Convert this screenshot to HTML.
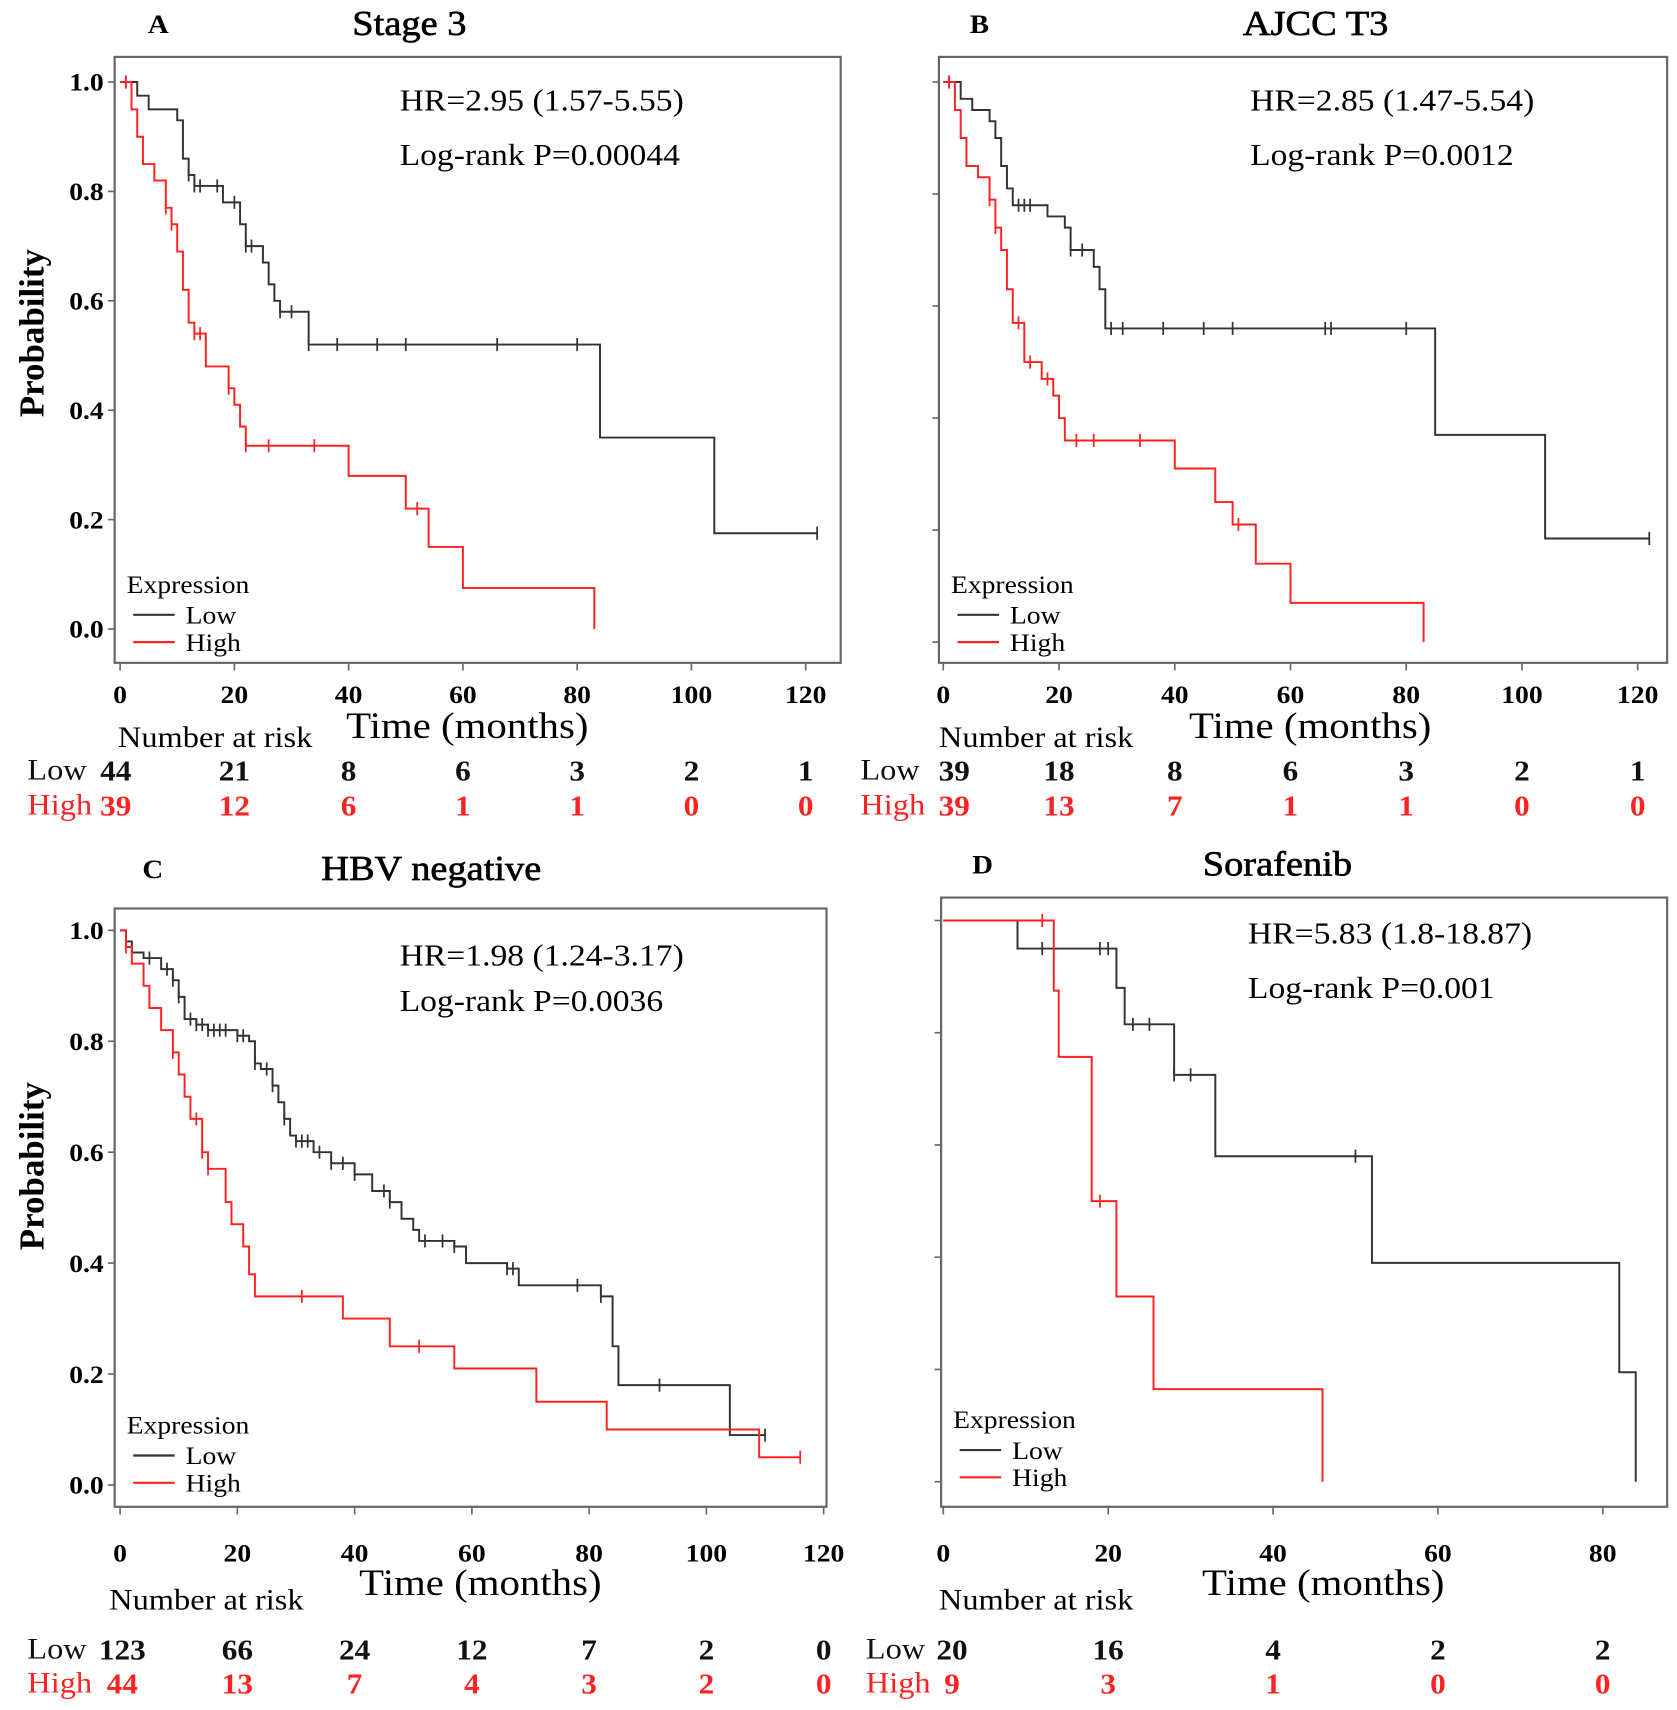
<!DOCTYPE html>
<html><head><meta charset="utf-8"><style>
html,body{margin:0;padding:0;background:#fff;}
svg{display:block;font-family:"Liberation Serif",serif;}
</style></head>
<body>
<svg id="fig" width="1677" height="1710" viewBox="0 0 1536 1566" xmlns="http://www.w3.org/2000/svg"></svg>
<script>
// ---- Panel A: Stage 3 ----
const aLowT=[0,3,5,10,11,12,13,18,21,22,25,26,27,28,33,84,104];
const aLowS=[1,.975,.95,.93,.86,.83,.81,.78,.74,.70,.67,.63,.60,.58,.52,.35,.175];
const aLowCens=[1,12,13,14,17,20,22,23,28,30,33,38,45,50,66,80,122];
const aHighT=[0,2,3,4,6,8,9,10,11,12,13,15,19,20,21,22,40,50,54,60,83];
const aHighS=[1,.95,.90,.85,.82,.77,.74,.69,.62,.56,.54,.48,.44,.41,.37,.335,.28,.22,.15,.075,0];
const aHighCens=[1,8,9,13,14,19,22,26,34,52];
const aRiskLow=[44,21,8,6,3,2,1];
const aRiskHigh=[39,12,6,1,1,0,0];
// ---- Panel B: AJCC T3 ----
const bLowT=[0,3,5,8,9,10,11,12,18,21,22,26,27,28,85,104];
const bLowS=[1,.97,.95,.93,.90,.85,.81,.78,.76,.74,.70,.67,.63,.56,.37,.185];
const bLowCens=[1,13,14,15,22,24,29,31,38,45,50,66,67,80,122];
const bHighT=[0,2,3,4,6,8,9,10,11,12,14,17,19,20,21,40,47,50,54,60,83];
const bHighS=[1,.95,.90,.85,.83,.79,.74,.70,.63,.57,.50,.47,.44,.40,.36,.31,.25,.21,.14,.07,0];
const bHighCens=[1,8,9,13,15,18,23,26,34,51];
const bRiskLow=[39,18,8,6,3,2,1];
const bRiskHigh=[39,13,7,1,1,0,0];
// ---- Panel C: HBV negative ----
const cLowT=[0,1,2,4,7,9,10,11,13,15,20,22,23,24,26,27,28,29,30,33,36,40,43,46,48,50,51,57,59,66,68,82,84,85,104];
const cLowS=[1,.98,.96,.95,.93,.91,.88,.84,.83,.82,.81,.80,.76,.75,.72,.69,.66,.63,.62,.60,.58,.56,.53,.51,.48,.46,.44,.43,.40,.39,.36,.34,.25,.18,.09];
const cLowCens=[5,8,9,10,12,13,14,15,16,17,18,20,21,23,25,26,28,30,31,32,34,36,38,40,45,46,52,55,57,66,67,78,82,92,110];
const cHighT=[0,1,2,4,5,7,9,10,11,12,14,15,18,19,21,22,23,38,46,57,71,83,109];
const cHighS=[1,.97,.94,.90,.86,.82,.78,.74,.70,.66,.60,.57,.51,.47,.43,.38,.34,.30,.25,.21,.15,.10,.05];
const cHighCens=[1,9,13,14,15,31,51,116];
const cRiskLow=[123,66,24,12,7,2,0];
const cRiskHigh=[44,13,7,4,3,2,0];
// ---- Panel D: Sorafenib ----
const dLowT=[0,9,21,22,28,33,52,82,84];
const dLowS=[1,.95,.88,.815,.725,.58,.39,.195,0];
const dLowCens=[12,19,20,23,25,28,30,50];
const dHighT=[0,13.4,14,18,21,25.5,46];
const dHighS=[1,.875,.757,.50,.33,.165,0];
const dHighCens=[12,19];
const dRiskLow=[20,16,4,2,2];
const dRiskHigh=[9,3,1,0,0];

const NS="http://www.w3.org/2000/svg";
const svg=document.getElementById('fig');
function mk(tag,attrs,parent,text){const e=document.createElementNS(NS,tag);for(const k in attrs)e.setAttribute(k,attrs[k]);if(text!==undefined)e.textContent=text;(parent||svg).appendChild(e);return e;}

const panels=[
 {id:'a',letter:'A',title:'Stage 3',box:[105,52,770,607],x0:110,xs:5.233,y1:75,y0:576,xmax:120,tstep:20,showY:true,
  hr:'HR=2.95 (1.57-5.55)',lr:'Log-rank P=0.00044',hrx:366,hry:92,lry:142,letterX:145,titleX:375,titleY:22,
  legY:535,tickY:636,timeX:428,timeY:665,narX:108,narY:675,lowLX:25,rowY:[705,737],firstOff:-4,
  low:[aLowT,aLowS,aLowCens,122],high:[aHighT,aHighS,aHighCens,83],risk:[aRiskLow,aRiskHigh],probY:305},
 {id:'b',letter:'B',title:'AJCC T3',box:[860,52,1527,607],x0:864,xs:5.3,y1:75,y0:588,xmax:120,tstep:20,showY:false,
  hr:'HR=2.85 (1.47-5.54)',lr:'Log-rank P=0.0012',hrx:1145,hry:92,lry:142,letterX:897,titleX:1205,titleY:22,
  legY:535,tickY:636,timeX:1200,timeY:665,narX:860,narY:675,lowLX:788,rowY:[705,737],firstOff:10,
  low:[bLowT,bLowS,bLowCens,122],high:[bHighT,bHighS,bHighCens,83],risk:[bRiskLow,bRiskHigh]},
 {id:'c',letter:'C',title:'HBV negative',box:[105,832,757,1380],x0:110,xs:5.37,y1:852,y0:1360,xmax:120,tstep:20,showY:true,
  hr:'HR=1.98 (1.24-3.17)',lr:'Log-rank P=0.0036',hrx:366,hry:875,lry:917,letterX:140,titleX:395,titleY:796,
  legY:1305,tickY:1422,timeX:440,timeY:1450,narX:100,narY:1465,lowLX:25,rowY:[1510,1541],firstOff:2,
  low:[cLowT,cLowS,cLowCens,110],high:[cHighT,cHighS,cHighCens,116],risk:[cRiskLow,cRiskHigh],probY:1068},
 {id:'d',letter:'D',title:'Sorafenib',box:[862,822,1527,1380],x0:864,xs:7.55,y1:843,y0:1357,xmax:80,tstep:20,showY:false,
  hr:'HR=5.83 (1.8-18.87)',lr:'Log-rank P=0.001',hrx:1143,hry:855,lry:905,letterX:900,titleX:1170,titleY:792,
  legY:1300,tickY:1422,timeX:1212,timeY:1450,narX:860,narY:1465,lowLX:793,rowY:[1510,1541],firstOff:8,
  low:[dLowT,dLowS,dLowCens,84],high:[dHighT,dHighS,dHighCens,46],risk:[dRiskLow,dRiskHigh]}
];

function survAt(T,S,t){let s=S[0];for(let i=0;i<T.length;i++){if(T[i]<=t)s=S[i];}return s;}

panels.forEach(p=>{
  const g=mk('g',{});
  
  
  const X=t=>p.x0+t*p.xs, Y=s=>p.y0-(p.y0-p.y1)*s;
  const [bl,bt,br,bb]=p.box;
  const frame=mk('rect',{x:bl,y:bt,width:br-bl,height:bb-bt,fill:'none',stroke:'#666','stroke-width':2},g);
  
  
  const lt=mk('text',{x:p.letterX,y:p.titleY+8,'font-size':24,'font-weight':'bold','text-anchor':'middle'},g,p.letter);
  
  
  const tt=mk('text',{x:p.titleX,y:p.titleY+10,'font-size':32,'text-anchor':'middle','stroke':'#000','stroke-width':0.6},g,p.title);
  
  
  for(let k=0;k<=5;k++){
    const v=k*0.2,y=Y(v);
    const tk=mk('line',{x1:bl-6,x2:bl,y1:y,y2:y,stroke:'#666','stroke-width':1.5},g);
    
    
    if(p.showY){
      const tl=mk('text',{x:bl-10,y:y+8,'font-size':23,'font-weight':'bold','text-anchor':'end'},g,v.toFixed(1));
      
      
    }
  }
  if(p.showY){
    const pl=mk('text',{x:0,y:0,'font-size':32,'font-weight':'bold','text-anchor':'middle',transform:`translate(40,${p.probY}) rotate(-90)`},g,'Probability');
    
    
  }
  const ticks=[];for(let t=0;t<=p.xmax;t+=p.tstep)ticks.push(t);
  ticks.forEach(t=>{
    const x=X(t);
    const tk=mk('line',{x1:x,x2:x,y1:bb,y2:bb+7,stroke:'#666','stroke-width':1.5},g);
    
    
    const tl=mk('text',{x:x,y:p.tickY+8,'font-size':23,'font-weight':'bold','text-anchor':'middle'},g,String(t));
    
    
  });
  const xt=mk('text',{x:p.timeX,y:p.timeY+11,'font-size':34,'text-anchor':'middle'},g,'Time (months)');
  
  
  const hr=mk('text',{x:p.hrx,y:p.hry+9,'font-size':28},g,p.hr);
  
  
  const lr=mk('text',{x:p.hrx,y:p.lry+9,'font-size':28},g,p.lr);
  
  
  [['low','#333'],['high','#f22']].forEach(([key,col])=>{
    const [T,S,C,end]=p[key];
    let d=`M${X(0)},${Y(S[0])}`;
    for(let i=1;i<T.length;i++){d+=` H${X(T[i])} V${Y(S[i])}`;}
    d+=` H${X(end)}`;
    const path=mk('path',{d:d,fill:'none',stroke:col,'stroke-width':1.8},g);
    
    
    C.forEach(t=>{
      const x=X(t),y=Y(survAt(T,S,t));
      const c=mk('line',{x1:x,x2:x,y1:y-6,y2:y+6,stroke:col,'stroke-width':1.6},g);
      
      
    });
  });
  const lg=mk('g',{},g);
  
  
  mk('text',{x:bl+11,y:p.legY+8,'font-size':23},lg,'Expression');
  [['Low','#333',28],['High','#f22',53]].forEach(([lab,col,dy])=>{
    const e=mk('g',{},lg);
    
    
    mk('line',{x1:bl+17,x2:bl+55,y1:p.legY+dy,y2:p.legY+dy,stroke:col,'stroke-width':2},e);
    mk('text',{x:bl+65,y:p.legY+dy+8,'font-size':23},e,lab);
  });
  const nr=mk('text',{x:p.narX,y:p.narY+9,'font-size':27},g,'Number at risk');
  
  
  [['Low','#111',0],['High','#f22',1]].forEach(([lab,col,r])=>{
    const row=mk('g',{},g);
    
    
    mk('text',{x:p.lowLX,y:p.rowY[r]+9,'font-size':27,fill:col},row,lab);
    p.risk[r].forEach((n,i)=>{
      mk('text',{x:X(ticks[i])+(i===0?p.firstOff:0),y:p.rowY[r]+10,'font-size':26,'font-weight':'bold','text-anchor':'middle',fill:col},row,String(n));
    });
  });
});
svg.querySelectorAll('text').forEach(t=>{
  if(t.getAttribute('transform'))return;
  const L=t.getComputedTextLength();
  if(L>0){t.setAttribute('textLength',(L*1.1).toFixed(1));t.setAttribute('lengthAdjust','spacingAndGlyphs');}
});
</script>
</body></html>
